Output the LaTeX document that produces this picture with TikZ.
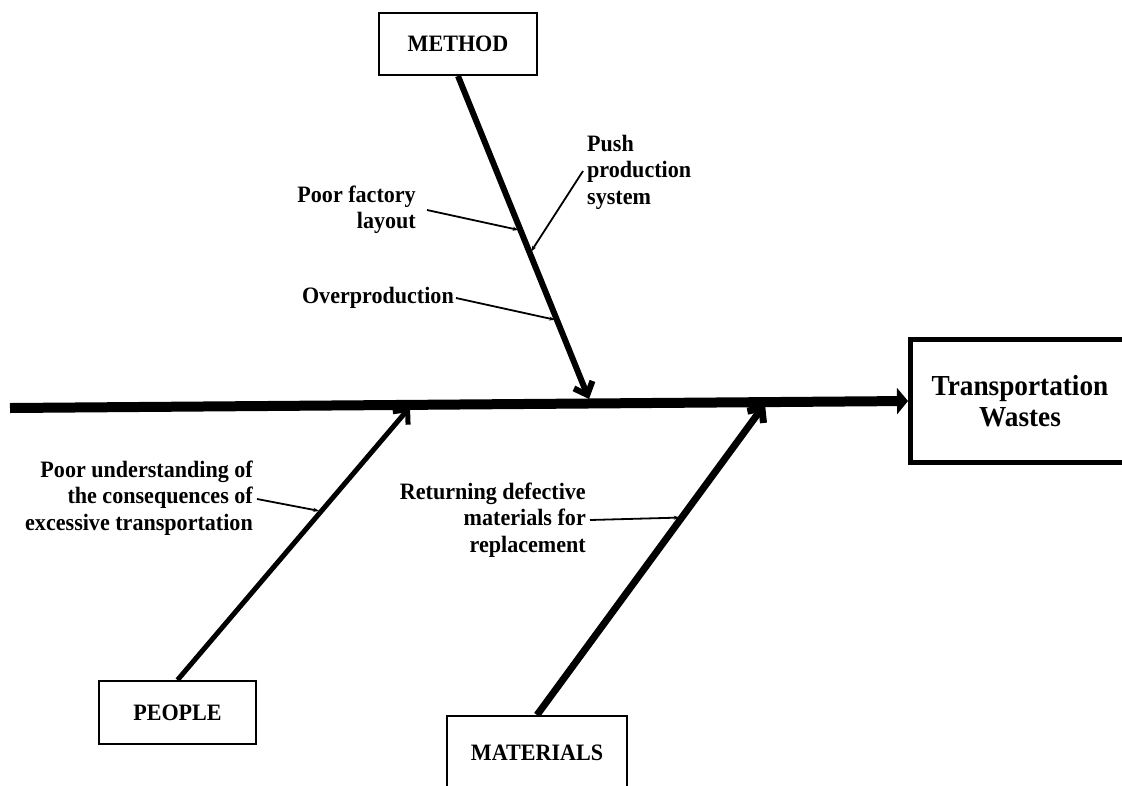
\documentclass[tikz,border=0pt]{standalone}
\usepackage{fontspec}
\setmainfont{Liberation Serif}[FakeStretch=0.94]
\usetikzlibrary{arrows.meta,calc}
\tikzset{
  catbox/.style={draw, line width=2pt, font=\fontsize{23.5}{27}\selectfont\bfseries, inner sep=0pt},
  headbox/.style={draw, line width=5pt, align=center, font=\fontsize{29}{31}\selectfont\bfseries, inner sep=0pt},
  cause/.style={inner sep=0pt, font=\fontsize{23.5}{26.5}\selectfont\bfseries},
  spine/.style={line width=10pt, -{Triangle[length=11pt,width=26pt]}},
  bone/.style={-{Straight Barb[length=11pt,width=20pt]}},
  causeline/.style={line width=1.8pt, -{Stealth[length=6pt,width=4pt]}, shorten >=2pt}
}
\begin{document}
\begin{tikzpicture}[x=1pt,y=-1pt]
\useasboundingbox (0,0) rectangle (1122,785);

% effect box and category boxes
\node[headbox, minimum width=219pt, minimum height=123pt] (head) at (1020,401) {Transportation\\Wastes};
\node[catbox, minimum width=158pt, minimum height=62pt] (method) at (458,44) {METHOD};
\node[catbox, minimum width=157pt, minimum height=63pt] (people) at (177.5,712.5) {PEOPLE};
\node[catbox, minimum width=180pt, minimum height=74pt] (materials) at (537,753) {MATERIALS};

% spine
\coordinate (tail) at (10,408);
\draw[spine] (tail) -- (head.west);

% points where the bones meet the spine
\coordinate (mtip) at (589,399);
\coordinate (ptip) at (410,407);
\coordinate (atip) at (765,404);

\draw[bone, line width=6pt] (method.south) -- (mtip);
\draw[bone, line width=5pt] (people.north) -- (ptip);
\draw[bone, line width=7pt] (materials.north) -- (atip);

% cause labels
\node[cause, align=right, anchor=east] (layout) at (416,210) {Poor factory\\layout};
\node[cause, align=left, anchor=west] (push) at (587,172) {Push\\production\\system};
\node[cause, anchor=east] (over) at (454,298) {Overproduction};
\node[cause, align=right, anchor=east] (under) at (253,498) {Poor understanding of\\the consequences of\\excessive transportation};
\node[cause, align=right, anchor=east] (ret) at (586,520) {Returning defective\\materials for\\replacement};

% attachment points on the bones
\coordinate (c1) at ($(method.south)!0.478!(mtip)$);
\coordinate (c2) at ($(method.south)!0.549!(mtip)$);
\coordinate (c3) at ($(method.south)!0.756!(mtip)$);
\coordinate (c4) at ($(people.north)!0.618!(ptip)$);
\coordinate (c5) at ($(materials.north)!0.635!(atip)$);

\draw[causeline] ([xshift=11pt]layout.east) -- (c1);
\draw[causeline] ([xshift=-4pt,yshift=1pt]push.west) -- (c2);
\draw[causeline] ([xshift=2pt]over.east) -- (c3);
\draw[causeline] ([xshift=4pt,yshift=-1pt]under.east) -- (c4);
\draw[causeline] ([xshift=4pt]ret.east) -- (c5);
\end{tikzpicture}
\end{document}
